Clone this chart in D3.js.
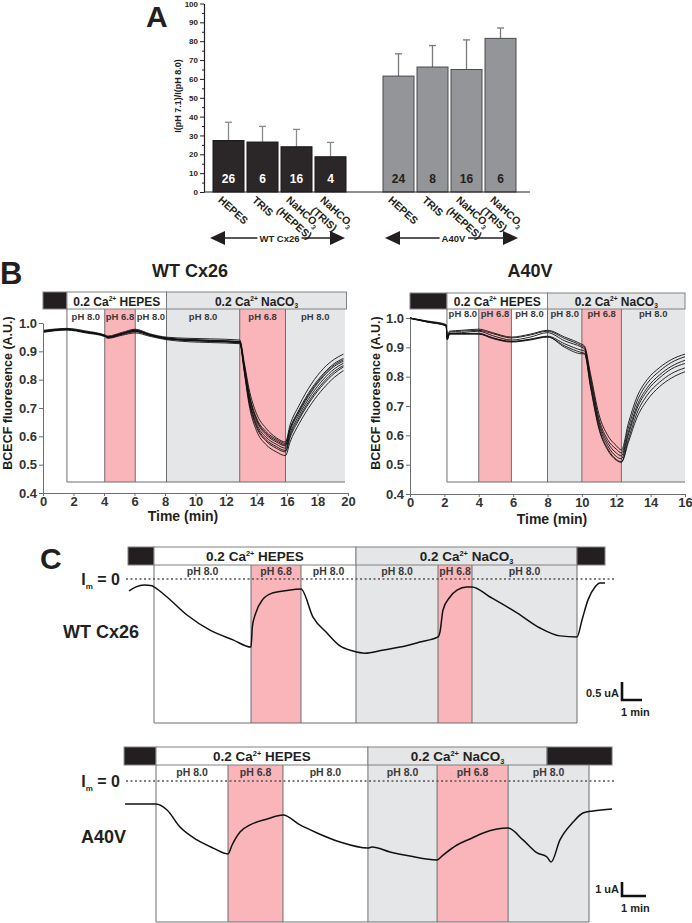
<!DOCTYPE html>
<html><head><meta charset="utf-8">
<script src="https://cdn.jsdelivr.net/npm/d3@7"></script>
<style>
body{margin:0;background:#fff}
svg{display:block}
text{font-family:"Liberation Sans",Arial,Helvetica,sans-serif;font-weight:bold;fill:#231f20}
</style>
</head><body>
<svg id="fig" width="692" height="923"></svg>
<script>
// ================= DATA =================
// Panel A
const aCategories = ["HEPES","TRIS","NaHCO3 (HEPES)","NaHCO3 (TRIS)"];
const aCatLines = [["HEPES"],["TRIS"],["NaHCO3","(HEPES)"],["NaHCO3","(TRIS)"]];
const aGroupNames = ["WT Cx26","A40V"];
const aWTMeans = [27.3,26.5,24.0,18.7];
const aWTErr   = [9.7,8.3,9.2,7.6];
const aWTN     = [26,6,16,4];
const aMutMeans = [61.5,66.3,65.0,81.5];
const aMutErr   = [11.8,11.4,15.7,5.5];
const aMutN     = [24,8,16,6];
const aTicks = [0,10,20,30,40,50,60,70,80,90,100];
const aMinorTicks = [5,15,25,35,45,55,65,75,85,95];

// Panel B (BCECF fluorescence traces)
const bXTicksWT = [0,2,4,6,8,10,12,14,16,18,20];
const bXTicksMut = [0,2,4,6,8,10,12,14,16];
const bYTicks = [0.4,0.5,0.6,0.7,0.8,0.9,1.0];
const bWTBounds = [1.57,4.05,6.05,8.1,12.9,15.9,19.8];
const bWTLabels = ["pH 8.0","pH 6.8","pH 8.0","pH 8.0","pH 6.8","pH 8.0"];
const bWTFills  = ["w","p","w","g","p","g"];
const bWTHeader = [[0,1.57,"k",""],[1.57,8.1,"w","HEPES"],[8.1,19.9,"g","NaCO"]];
const bWTTime = [0,1.57,2.8,4.05,4.25,5.2,6.05,7.0,8.1,9.5,11,12.9,13.2,13.5,14.0,14.6,15.3,15.9,16.2,16.8,17.6,18.4,19.1,19.7];
const bWTTraces = [
 [0.967,0.975,0.965,0.952,0.946,0.957,0.965,0.953,0.941,0.934,0.931,0.927,0.825,0.715,0.62,0.572,0.545,0.532,0.58,0.645,0.715,0.77,0.808,0.832],
 [0.974,0.981,0.972,0.958,0.954,0.967,0.978,0.962,0.95,0.946,0.944,0.94,0.86,0.77,0.68,0.63,0.595,0.58,0.64,0.71,0.785,0.84,0.872,0.89],
 [0.971,0.979,0.969,0.956,0.951,0.964,0.974,0.959,0.947,0.942,0.939,0.935,0.85,0.755,0.665,0.618,0.59,0.575,0.628,0.695,0.768,0.822,0.857,0.875],
 [0.970,0.978,0.968,0.955,0.949,0.962,0.971,0.957,0.945,0.940,0.937,0.933,0.845,0.745,0.655,0.607,0.58,0.566,0.62,0.685,0.757,0.812,0.847,0.865],
 [0.969,0.977,0.967,0.954,0.948,0.960,0.969,0.956,0.944,0.939,0.936,0.931,0.838,0.735,0.645,0.598,0.572,0.558,0.61,0.676,0.747,0.802,0.838,0.858],
 [0.972,0.977,0.967,0.954,0.950,0.961,0.972,0.958,0.946,0.941,0.938,0.934,0.835,0.73,0.638,0.59,0.564,0.55,0.602,0.667,0.737,0.792,0.829,0.85],
 [0.968,0.977,0.968,0.956,0.951,0.963,0.975,0.960,0.946,0.938,0.935,0.930,0.832,0.725,0.632,0.585,0.558,0.545,0.595,0.66,0.73,0.785,0.822,0.845],
 [0.971,0.978,0.969,0.955,0.950,0.963,0.973,0.958,0.944,0.940,0.937,0.932,0.848,0.75,0.66,0.612,0.585,0.57,0.625,0.69,0.762,0.817,0.852,0.87]
];
const bMutBounds = [2.15,4.0,5.9,8.0,10.0,12.3,16.0];
const bMutLabels = ["pH 8.0","pH 6.8","pH 8.0","pH 8.0","pH 6.8","pH 8.0"];
const bMutFills  = ["w","p","w","g","p","g"];
const bMutHeader = [[0,2.15,"k",""],[2.15,8.0,"w","HEPES"],[8.0,16,"g","NaCO"]];
const bMutTime = [0,1.0,2.1,2.17,2.3,3.0,4.0,4.8,5.9,7.0,8.0,9.0,10.0,10.15,10.5,11.0,11.5,12.0,12.3,12.7,13.2,13.8,14.5,15.2,16.0];
const bMutTraces = [
 [1.0,0.99,0.978,0.935,0.955,0.958,0.962,0.95,0.935,0.945,0.958,0.935,0.91,0.905,0.81,0.67,0.6,0.565,0.55,0.64,0.73,0.79,0.83,0.858,0.877],
 [1.0,0.988,0.975,0.93,0.952,0.955,0.958,0.947,0.932,0.942,0.955,0.93,0.905,0.9,0.8,0.655,0.585,0.553,0.54,0.625,0.715,0.777,0.818,0.848,0.868],
 [0.998,0.987,0.975,0.928,0.948,0.95,0.955,0.94,0.925,0.935,0.95,0.922,0.9,0.895,0.79,0.645,0.575,0.54,0.53,0.61,0.7,0.762,0.805,0.835,0.856],
 [1.0,0.988,0.976,0.93,0.947,0.947,0.948,0.933,0.92,0.928,0.938,0.912,0.89,0.888,0.78,0.635,0.565,0.528,0.52,0.6,0.69,0.752,0.795,0.826,0.845],
 [0.999,0.986,0.973,0.925,0.945,0.945,0.945,0.93,0.918,0.925,0.935,0.905,0.882,0.88,0.77,0.625,0.555,0.518,0.51,0.585,0.675,0.737,0.78,0.81,0.83],
 [1.0,0.987,0.974,0.93,0.946,0.946,0.946,0.932,0.92,0.927,0.936,0.9,0.878,0.878,0.765,0.62,0.55,0.515,0.508,0.575,0.66,0.72,0.765,0.795,0.817]
];

// Panel C (membrane current, uA vs min)
const cWTBounds = [0,4.85,7.35,10.1,14.2,15.9,21.15];
const cWTLabels = ["pH 8.0","pH 6.8","pH 8.0","pH 8.0","pH 6.8","pH 8.0"];
const cWTFills  = ["w","p","w","g","p","g"];
const cWTHeader = [[-1.3,0,"k",""],[0,10.1,"w","HEPES"],[10.1,21.15,"g","NaCO"],[21.15,22.55,"k",""]];
const cWTTime = [-1.25,-0.9,-0.5,-0.1,0,0.65,1.65,2.8,3.95,4.85,4.92,5.08,5.42,5.92,6.63,7.35,7.95,8.65,9.3,9.95,10.55,11.4,12.3,13.3,14.2,14.3,14.45,14.8,15.15,15.65,15.9,16.8,18.15,19.3,20.3,21.15,21.4,21.7,22.05,22.3,22.55];
const cWTCurrent = [-0.33,-0.22,-0.17,-0.19,-0.22,-0.5,-1.0,-1.42,-1.69,-1.89,-1.32,-0.96,-0.58,-0.39,-0.32,-0.28,-1.06,-1.5,-1.86,-2.0,-2.06,-1.98,-1.89,-1.75,-1.61,-1.47,-0.86,-0.5,-0.31,-0.22,-0.22,-0.5,-0.94,-1.36,-1.58,-1.61,-1.14,-0.58,-0.22,-0.11,-0.11];
const cMutBounds = [0,3.0,5.29,8.83,11.71,14.67,18.04];
const cMutLabels = ["pH 8.0","pH 6.8","pH 8.0","pH 8.0","pH 6.8","pH 8.0"];
const cMutFills  = ["w","p","w","g","p","g"];
const cMutHeader = [[-1.33,0,"k",""],[0,8.83,"w","HEPES"],[8.83,16.29,"g","NaCO"],[16.29,19.0,"k",""]];
const cMutTime = [-1.29,0,0.46,1.0,1.71,2.38,3.0,3.17,3.5,3.92,4.63,5.29,6.0,6.71,7.67,8.83,9.0,9.75,10.58,11.71,11.96,12.54,13.08,13.63,14.21,14.67,15.29,15.88,16.29,16.46,16.83,17.38,17.79,18.21,19.0];
const cMutCurrent = [-1.64,-1.64,-2.07,-3.29,-4.21,-4.79,-5.21,-4.57,-3.64,-3.14,-2.71,-2.43,-3.14,-3.71,-4.36,-4.79,-4.71,-5.07,-5.36,-5.64,-5.29,-4.57,-4.14,-3.71,-3.43,-3.36,-4.21,-5.14,-5.43,-5.79,-4.21,-2.93,-2.29,-2.14,-2.0];

// ================= STYLE =================
const FILL = {w:"#ffffff", p:"#f9b5ba", g:"#e5e6e8", k:"#231f20"};
const svg = d3.select("#fig");

function caLabel(sel, x, y, size, name, anchor) {
  const t = sel.append("text").attr("x", x).attr("y", y)
    .attr("text-anchor", anchor || "middle").style("font-size", size + "px");
  t.append("tspan").text("0.2 Ca");
  t.append("tspan").text("2+").style("font-size", (size*0.55) + "px").attr("dy", -size*0.38);
  t.append("tspan").text(" " + name).attr("dy", size*0.38);
  if (name === "NaCO") t.append("tspan").text("3").style("font-size", (size*0.55) + "px").attr("dy", size*0.2);
  return t;
}

// ================= PANEL A =================
(function(){
  const g = svg.append("g");
  const yA = d3.scaleLinear().domain([0,100]).range([192,3.5]);
  const axX = 204, axEnd = 530;
  const xWT = d3.scaleBand().domain(aCategories).range([211.5,347.5]).paddingInner(3/34).paddingOuter(1.5/34);
  const xMut = d3.scaleBand().domain(aCategories).range([381.5,517.5]).paddingInner(3/34).paddingOuter(1.5/34);

  const groups = [
    {x:xWT, means:aWTMeans, err:aWTErr, n:aWTN, fill:"#2b2627", stroke:"#1a1718", nColor:"#ffffff", eColor:"#8a8a8a"},
    {x:xMut, means:aMutMeans, err:aMutErr, n:aMutN, fill:"#939598", stroke:"#4a4a4c", nColor:"#231f20", eColor:"#7a7a7c"}
  ];
  groups.forEach(G => {
    aCategories.forEach((c,i) => {
      const cx = G.x(c) + G.x.bandwidth()/2;
      g.append("line").attr("x1",cx).attr("x2",cx).attr("y1",yA(G.means[i])).attr("y2",yA(G.means[i]+G.err[i]))
        .attr("stroke",G.eColor).attr("stroke-width",1.3);
      g.append("line").attr("x1",cx-3.5).attr("x2",cx+3.5).attr("y1",yA(G.means[i]+G.err[i])).attr("y2",yA(G.means[i]+G.err[i]))
        .attr("stroke",G.eColor).attr("stroke-width",1.3);
      g.append("rect").attr("x",G.x(c)).attr("width",G.x.bandwidth())
        .attr("y",yA(G.means[i])).attr("height",yA(0)-yA(G.means[i]))
        .attr("fill",G.fill).attr("stroke",G.stroke).attr("stroke-width",1);
      g.append("text").attr("x",cx).attr("y",yA(8)+6).attr("text-anchor","middle")
        .style("font-size","12px").style("fill",G.nColor).text(G.n[i]);
      const lab = g.append("text").attr("transform",`translate(${cx-11},201) rotate(42)`).style("font-size","10.5px");
      aCatLines[i].forEach((line,li) => {
        const ts = lab.append("tspan").attr("x",0).attr("dy", li===0 ? 0 : "1.05em");
        if (line.endsWith("3")) {
          ts.text(line.slice(0,-1));
          lab.append("tspan").text("3").style("font-size","6.5px").attr("dy",3);
          lab.append("tspan").text("").attr("dy",-3);
        } else ts.text(line);
      });
    });
  });

  const yAxis = d3.axisLeft(yA).tickValues(aTicks).tickSize(4).tickSizeOuter(0).tickPadding(2);
  const ya = g.append("g").attr("transform",`translate(${axX},0)`).call(yAxis);
  ya.selectAll("text").style("font-size","8px").style("fill","#231f20");
  ya.selectAll("line").attr("stroke","#231f20");
  ya.select(".domain").attr("stroke","#231f20").attr("stroke-width",1.2);
  const ym = g.append("g").attr("transform",`translate(${axX},0)`)
    .call(d3.axisLeft(yA).tickValues(aMinorTicks).tickSize(2).tickFormat(""));
  ym.select(".domain").remove();
  ym.selectAll("line").attr("stroke","#231f20");
  g.append("line").attr("x1",axX).attr("x2",axEnd).attr("y1",yA(0)).attr("y2",yA(0))
    .attr("stroke","#231f20").attr("stroke-width",1.2);

  g.append("text").attr("transform",`translate(181,96) rotate(-90)`).attr("text-anchor","middle")
    .style("font-size","9px").text("I(pH 7.1)/I(pH 8.0)");

  const arrows = [{x1:210,x2:345,label:aGroupNames[0]},{x1:385,x2:518,label:aGroupNames[1]}];
  const ay = 238;
  arrows.forEach(A => {
    g.append("line").attr("x1",A.x1+12).attr("x2",A.x2-12).attr("y1",ay).attr("y2",ay)
      .attr("stroke","#231f20").attr("stroke-width",1.6);
    g.append("path").attr("d",`M${A.x1},${ay} L${A.x1+15},${ay-7} L${A.x1+15},${ay+7} Z`).attr("fill","#231f20");
    g.append("path").attr("d",`M${A.x2},${ay} L${A.x2-15},${ay-7} L${A.x2-15},${ay+7} Z`).attr("fill","#231f20");
    const cx = (A.x1+A.x2)/2 + 2;
    const t = g.append("text").attr("x",cx).attr("y",ay+3.5).attr("text-anchor","middle").style("font-size","9.5px").text(A.label);
    const bb = t.node().getBBox();
    g.insert("rect", () => t.node()).attr("x",bb.x-2).attr("y",bb.y).attr("width",bb.width+4).attr("height",bb.height).attr("fill","#fff");
  });

  svg.append("text").attr("x",146).attr("y",27).style("font-size","30px").text("A");
})();

// ================= PANEL B =================
function drawB(cfg) {
  const g = svg.append("g");
  const x = d3.scaleLinear().domain(cfg.xDomain).range(cfg.xRange);
  const y = d3.scaleLinear().domain([0.4,1.0]).range(cfg.yRange);
  const b = cfg.bounds;
  for (let i=0;i<b.length-1;i++) {
    g.append("rect").attr("x",x(b[i])).attr("width",x(b[i+1])-x(b[i]))
      .attr("y",cfg.hBot).attr("height",cfg.rBot-cfg.hBot).attr("fill",FILL[cfg.fills[i]]);
  }
  for (let i=0;i<b.length-1;i++) {
    g.append("line").attr("x1",x(b[i])).attr("x2",x(b[i])).attr("y1",cfg.hBot).attr("y2",cfg.rBot)
      .attr("stroke","#6d6e70").attr("stroke-width",1);
    g.append("text").attr("x",(x(b[i])+x(b[i+1]))/2).attr("y",cfg.phY).attr("text-anchor","middle")
      .style("font-size","9.5px").style("fill","#3a3a3a").text(cfg.labels[i]);
  }
  g.append("line").attr("x1",x(b[0])).attr("x2",x(b[b.length-1])).attr("y1",cfg.rBot).attr("y2",cfg.rBot)
    .attr("stroke","#6d6e70").attr("stroke-width",1);
  const line = d3.line().x((d,i)=>x(cfg.time[i])).y(d=>y(d)).curve(d3.curveMonotoneX);
  cfg.traces.forEach(tr => {
    g.append("path").attr("d",line(tr)).attr("fill","none").attr("stroke","#111").attr("stroke-width",0.9);
  });
  cfg.header.forEach(h => {
    g.append("rect").attr("x",x(h[0])).attr("width",x(h[1])-x(h[0])).attr("y",cfg.hTop).attr("height",cfg.hBot-cfg.hTop)
      .attr("fill",FILL[h[2]]).attr("stroke","#808082").attr("stroke-width",1);
    if (h[3]) caLabel(g,(x(h[0])+x(h[1]))/2,cfg.hBot-3.5,12,h[3]);
  });
  const ya = g.append("g").attr("transform",`translate(${cfg.xRange[0]},0)`)
    .call(d3.axisLeft(y).tickValues(bYTicks).tickFormat(d3.format(".1f")).tickSize(4).tickSizeOuter(0).tickPadding(2));
  const xa = g.append("g").attr("transform",`translate(0,${cfg.yRange[0]})`)
    .call(d3.axisBottom(x).tickValues(cfg.xTicks).tickSize(3).tickSizeOuter(0).tickPadding(1));
  [ya,xa].forEach(a => {
    a.selectAll("text").style("font-size","13px").style("fill","#333");
    a.selectAll("line").attr("stroke","#6d6e70");
    a.select(".domain").attr("stroke","#6d6e70");
  });
  g.append("text").attr("x",cfg.timeX).attr("y",cfg.timeY).attr("text-anchor","middle").style("font-size","14px").text("Time (min)");
  g.append("text").attr("transform",`translate(${cfg.ylabX},393) rotate(-90)`).attr("text-anchor","middle")
    .style("font-size","12.5px").text("BCECF fluoresence (A.U.)");
  g.append("text").attr("x",cfg.titleX).attr("y",277).attr("text-anchor","middle").style("font-size","18px").text(cfg.title);
}
drawB({xDomain:[0,20], xRange:[43,348], yRange:[493,323], hTop:292, hBot:309, rBot:482, phY:320,
  bounds:bWTBounds, labels:bWTLabels, fills:bWTFills, header:bWTHeader, time:bWTTime, traces:bWTTraces,
  xTicks:bXTicksWT, timeX:183, timeY:521, ylabX:12, titleX:190, title:"WT Cx26"});
drawB({xDomain:[0,16], xRange:[410,685], yRange:[494,318], hTop:293, hBot:309, rBot:482, phY:317,
  bounds:bMutBounds, labels:bMutLabels, fills:bMutFills, header:bMutHeader, time:bMutTime, traces:bMutTraces,
  xTicks:bXTicksMut, timeX:552, timeY:524, ylabX:380, titleX:530, title:"A40V"});
svg.append("text").attr("x",0).attr("y",284).style("font-size","31px").text("B");

// ================= PANEL C =================
function drawC(cfg) {
  const g = svg.append("g");
  const x = d3.scaleLinear().domain([0, cfg.bounds[cfg.bounds.length-1]]).range(cfg.xRange);
  const y = d3.scaleLinear().domain([0,-1]).range([cfg.zeroY, cfg.zeroY + cfg.pxPerUA]);
  const b = cfg.bounds;
  for (let i=0;i<b.length-1;i++) {
    g.append("rect").attr("x",x(b[i])).attr("width",x(b[i+1])-x(b[i]))
      .attr("y",cfg.hBot).attr("height",cfg.rBot-cfg.hBot).attr("fill",FILL[cfg.fills[i]]);
  }
  for (let i=0;i<b.length;i++) {
    g.append("line").attr("x1",x(b[i])).attr("x2",x(b[i])).attr("y1",cfg.hBot).attr("y2",cfg.rBot)
      .attr("stroke","#6d6e70").attr("stroke-width",1);
  }
  g.append("line").attr("x1",x(b[0])).attr("x2",x(b[b.length-1])).attr("y1",cfg.rBot).attr("y2",cfg.rBot)
    .attr("stroke","#6d6e70").attr("stroke-width",1);
  for (let i=0;i<b.length-1;i++) {
    g.append("text").attr("x",(x(b[i])+x(b[i+1]))/2).attr("y",cfg.phY).attr("text-anchor","middle")
      .style("font-size","10.5px").style("fill","#3a3a3a").text(cfg.labels[i]);
  }
  cfg.header.forEach(h => {
    g.append("rect").attr("x",x(h[0])).attr("width",x(h[1])-x(h[0])).attr("y",cfg.hTop).attr("height",cfg.hBot-cfg.hTop)
      .attr("fill",FILL[h[2]]).attr("stroke","#808082").attr("stroke-width",1);
    if (h[3]) caLabel(g,(x(h[0])+x(h[1]))/2,cfg.hBot-4,13.5,h[3]);
  });
  g.append("line").attr("x1",cfg.dotX[0]).attr("x2",cfg.dotX[1]).attr("y1",y(0)).attr("y2",y(0))
    .attr("stroke","#555").attr("stroke-width",1.3).attr("stroke-dasharray","2,2.5");
  const im = g.append("text").attr("x",120).attr("y",y(0)+6).attr("text-anchor","end").style("font-size","16px");
  im.append("tspan").text("I");
  im.append("tspan").text("m").style("font-size","8px").attr("dy",4);
  im.append("tspan").text(" = 0").attr("dy",-4);
  const line = d3.line().x((d,i)=>x(cfg.time[i])).y(d=>y(d)).curve(d3.curveMonotoneX);
  g.append("path").attr("d",line(cfg.current)).attr("fill","none").attr("stroke","#111").attr("stroke-width",1.5);
  g.append("text").attr("x",cfg.nameX).attr("y",cfg.nameY).attr("text-anchor","end").style("font-size","18px").text(cfg.name);
  const sx = 622, sy = cfg.sbY;
  const vLen = y(-cfg.sbUA) - y(0), hLen = x(1) - x(0);
  g.append("path").attr("d",`M${sx},${sy-vLen} L${sx},${sy} L${sx+hLen},${sy}`).attr("fill","none")
    .attr("stroke","#111").attr("stroke-width",2.6);
  g.append("text").attr("x",sx-3).attr("y",sy-3).attr("text-anchor","end").style("font-size","11px").text(cfg.sbLabel);
  g.append("text").attr("x",sx-1).attr("y",sy+16).style("font-size","11px").text("1 min");
}
drawC({xRange:[154,577], bounds:cWTBounds, fills:cWTFills, labels:cWTLabels, header:cWTHeader,
  hTop:547, hBot:565, rBot:723, phY:575, zeroY:579, pxPerUA:36, dotX:[126,616],
  time:cWTTime, current:cWTCurrent, name:"WT Cx26", nameX:139, nameY:638, sbY:700, sbUA:0.5, sbLabel:"0.5 uA"});
drawC({xRange:[156,589], bounds:cMutBounds, fills:cMutFills, labels:cMutLabels, header:cMutHeader,
  hTop:747, hBot:765, rBot:922, phY:776, zeroY:781, pxPerUA:14, dotX:[126,616],
  time:cMutTime, current:cMutCurrent, name:"A40V", nameX:126, nameY:843, sbY:896, sbUA:1, sbLabel:"1 uA"});
svg.append("text").attr("x",40).attr("y",569).style("font-size","30px").text("C");
</script>
</body></html>
